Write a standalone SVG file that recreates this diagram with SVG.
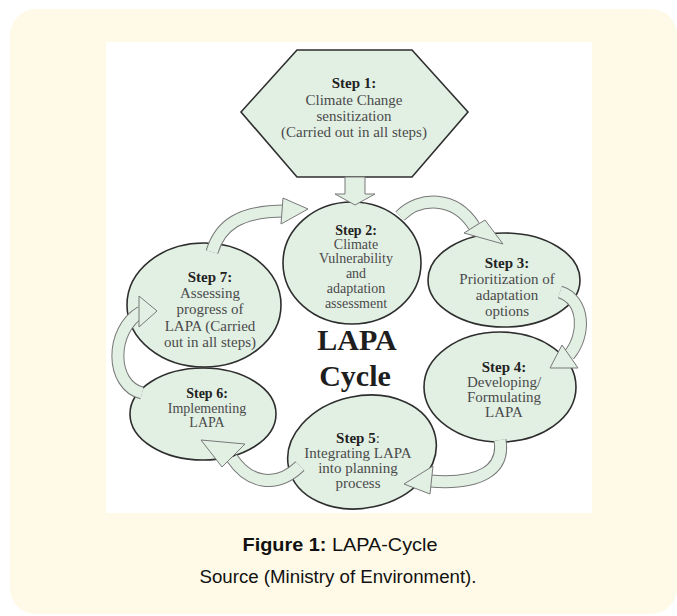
<svg xmlns="http://www.w3.org/2000/svg" width="677" height="616" viewBox="0 0 677 616">
<style>
.node{fill:#e2f0e4;stroke:#2e2e2e;stroke-width:1.6}
.t{font-family:"Liberation Serif",serif;font-size:15px;fill:#4a4a4a;text-anchor:middle}
.sm{font-size:14px}
.s{font-weight:bold;fill:#222}
.big{font-family:"Liberation Serif",serif;font-size:30px;font-weight:bold;fill:#1e1e1e;text-anchor:middle}
.bo{fill:none;stroke:#787878;stroke-width:13}
.bi{fill:none;stroke:#e2f0e4;stroke-width:11}
.hd{fill:#e2f0e4;stroke:#787878;stroke-width:1;stroke-linejoin:miter}
.cap{font-family:"Liberation Sans",sans-serif;font-size:18px;fill:#111;text-anchor:middle}
</style>
<rect x="10" y="9" width="667" height="605" rx="26" fill="#fefae7"/>
<rect x="106" y="42" width="486" height="471" fill="#ffffff"/>

<g id="step1">
<polygon class="node" points="241,112 297,50 412,50 468,112 412,177 297,177"/>
<text class="t s" x="354" y="88">Step 1:</text>
<text class="t" x="354" y="105">Climate Change</text>
<text class="t" x="354" y="121">sensitization</text>
<text class="t" x="354" y="137">(Carried out in all steps)</text>
</g>
<g id="step2">
<ellipse class="node" cx="352" cy="263" rx="69" ry="61"/>
<text class="t sm s" x="356" y="235">Step 2:</text>
<text class="t sm" x="356" y="249">Climate</text>
<text class="t sm" x="356" y="263">Vulnerability</text>
<text class="t sm" x="356" y="278">and</text>
<text class="t sm" x="356" y="293">adaptation</text>
<text class="t sm" x="356" y="308">assessment</text>
</g>
<g id="step3">
<ellipse class="node" cx="504" cy="280" rx="76" ry="47"/>
<text class="t s" x="507" y="268">Step 3:</text>
<text class="t" x="507" y="284">Prioritization of</text>
<text class="t" x="507" y="300">adaptation</text>
<text class="t" x="507" y="316">options</text>
</g>
<g id="step4">
<ellipse class="node" cx="500" cy="387" rx="76" ry="55"/>
<text class="t s" x="504" y="372">Step 4:</text>
<text class="t" x="504" y="387">Developing/</text>
<text class="t" x="504" y="402">Formulating</text>
<text class="t" x="504" y="417">LAPA</text>
</g>
<g id="step5">
<ellipse class="node" cx="362" cy="452" rx="75" ry="56" transform="rotate(-12 362 452)"/>
<text class="t" x="358" y="443"><tspan class="s">Step 5</tspan>:</text>
<text class="t" x="358" y="458">Integrating LAPA</text>
<text class="t" x="358" y="473">into planning</text>
<text class="t" x="358" y="488">process</text>
</g>
<g id="step6">
<ellipse class="node" cx="203" cy="414" rx="73" ry="46"/>
<text class="t sm s" x="207" y="398">Step 6:</text>
<text class="t sm" x="207" y="413">Implementing</text>
<text class="t sm" x="207" y="427">LAPA</text>
</g>
<g id="step7">
<ellipse class="node" cx="204" cy="305" rx="77" ry="62"/>
<text class="t s" x="210" y="282">Step 7:</text>
<text class="t" x="210" y="298">Assessing</text>
<text class="t" x="210" y="314">progress of</text>
<text class="t" x="210" y="331">LAPA (Carried</text>
<text class="t" x="210" y="347">out in all steps)</text>
</g>
<g id="center-label">
<text class="big" x="357" y="350">LAPA</text>
<text class="big" x="355" y="386">Cycle</text>
</g>

<g id="connectors">
<polygon class="hd" points="345,177 365,177 365,194 375,194 355,205 335,194 345,194"/>
<path class="bo" d="M212,252 C220,225 240,211 285,211"/>
<path class="bi" d="M212,252 C220,225 240,211 285,211"/>
<polygon class="hd" points="283,198 308,209 281,224"/>
<path class="bo" d="M400,216 C420,196 455,196 474,226"/>
<path class="bi" d="M400,216 C420,196 455,196 474,226"/>
<polygon class="hd" points="485,220 503,244 464,233"/>
<path class="bo" d="M560,292 C585,300 586,335 569,355"/>
<path class="bi" d="M560,292 C585,300 586,335 569,355"/>
<polygon class="hd" points="562,345 550,368 578,368"/>
<path class="bo" d="M500,440 C505,470 480,485 430,481"/>
<path class="bi" d="M500,440 C505,470 480,485 430,481"/>
<polygon class="hd" points="433,466 404,484 430,494"/>
<path class="bo" d="M300,466 C275,490 248,482 232,458"/>
<path class="bi" d="M300,466 C275,490 248,482 232,458"/>
<polygon class="hd" points="245,444 201,440 222,467"/>
<path class="bo" d="M142,393 C110,385 110,330 141,312"/>
<path class="bi" d="M142,393 C110,385 110,330 141,312"/>
<polygon class="hd" points="139,296 157,311 139,327"/>
</g>

<g id="caption">
<text class="cap" x="340" y="551" textLength="195" lengthAdjust="spacingAndGlyphs"><tspan font-weight="bold">Figure 1:</tspan> LAPA-Cycle</text>
<text class="cap" x="338" y="583" textLength="277" lengthAdjust="spacingAndGlyphs">Source (Ministry of Environment).</text>
</g>
</svg>
